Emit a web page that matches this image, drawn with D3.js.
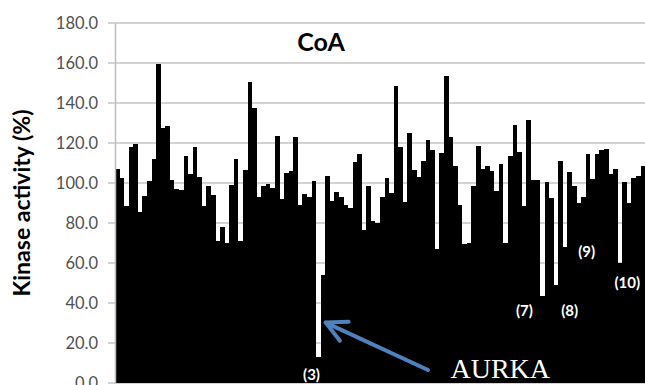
<!DOCTYPE html>
<html>
<head>
<meta charset="utf-8">
<script src="https://cdn.jsdelivr.net/npm/d3@7"></script>
<style>
  html, body { margin: 0; padding: 0; background: #fff; overflow: hidden; }
  svg { display: block; }
</style>
</head>
<body>
<div id="chart"></div>
<script>
// kinase activity values left to right
const values = [
  107, 102.7, 88.7, 118, 119.7, 85.7, 93.7, 101, 112, 159.7,
  127.7, 128.3, 101.7, 97, 96.3, 113.3, 104.3, 118, 103, 88.7,
  98.7, 94, 71, 78, 70, 99, 112, 71, 106.7, 150.3,
  137.7, 93, 98.3, 99.7, 97.3, 123.7, 92, 105, 106, 123,
  89, 94.7, 93, 101, 13, 54, 103.3, 91, 95.3, 93,
  89, 87.7, 110.3, 114.7, 76.5, 98.3, 81, 80, 93, 102.7,
  95, 148.3, 118, 90.3, 125, 106.3, 103, 111, 121.7, 116.3,
  67, 115, 153.3, 123, 108.7, 89, 69.5, 70, 98.3, 118.7,
  107, 108.7, 106, 96, 109.7, 70, 113.3, 129, 115.7, 88.7,
  131.3, 101.3, 101.7, 43.5, 100.3, 92.3, 48.8, 111, 68.2, 105.7,
  98.3, 90, 93, 114.3, 102, 114.7, 116.7, 117, 104.7, 107,
  60, 100.3, 90, 102.7, 103.7, 108.7, 74
];
const categories = values.map((v, i) => i);
const yTicks = [0, 20, 40, 60, 80, 100, 120, 140, 160, 180];

// annotations: label, position in bar units and in value units
const notes = [
  { text: '(3)', at: 43.0, v: 1.5 },
  { text: '(7)', at: 89.6, v: 33.5 },
  { text: '(8)', at: 99.5, v: 33.5 },
  { text: '(9)', at: 103.2, v: 63 },
  { text: '(10)', at: 112.1, v: 47.7 }
];
const arrowFrom = { at: 68.5, v: 6.5 };
const arrowTo = { at: 46.1, v: 30.2 };
const aurka = { text: 'AURKA', at: 84.3, v: 2.5 };

const width = 645, height = 385;
const mLeft = 115, mTop = 23, mBottom = 383;
const step = 4.57;

const svg = d3.select('#chart').append('svg')
  .attr('width', width)
  .attr('height', height);

const x = d3.scaleBand()
  .domain(categories)
  .range([mLeft, mLeft + categories.length * step])
  .padding(0);

const y = d3.scaleLinear()
  .domain([0, 180])
  .range([mBottom, mTop]);

// bar-unit position -> pixel
const xPos = d => mLeft + d * x.step();

// grid
svg.append('g')
  .selectAll('line')
  .data(yTicks)
  .enter().append('line')
  .attr('x1', mLeft - 7)
  .attr('x2', width)
  .attr('y1', d => y(d))
  .attr('y2', d => y(d))
  .attr('stroke', '#c4c4c4')
  .attr('stroke-width', 1.5);

// bars (edges snapped so neighbours meet without seams)
svg.append('g')
  .attr('shape-rendering', 'crispEdges')
  .selectAll('rect')
  .data(values)
  .enter().append('rect')
  .attr('x', (d, i) => Math.round(x(i)))
  .attr('width', (d, i) => Math.round(x(i) + x.bandwidth()) - Math.round(x(i)))
  .attr('y', d => y(d))
  .attr('height', d => y(0) - y(d))
  .attr('fill', '#000');

// y axis
const yAxis = d3.axisLeft(y)
  .tickValues(yTicks)
  .tickFormat(d3.format('.1f'))
  .tickSize(0)
  .tickPadding(17);

const ax = svg.append('g')
  .attr('transform', 'translate(' + mLeft + ',0)')
  .call(yAxis);
ax.select('.domain')
  .attr('stroke', '#bdbdbd')
  .attr('stroke-width', 1.5);
ax.selectAll('text')
  .attr('fill', '#505050')
  .attr('font-family', 'Lato, sans-serif')
  .attr('font-size', '16.5px');

svg.append('text')
  .attr('transform', 'translate(30,' + (mTop + mBottom) / 2 + ') rotate(-90)')
  .attr('text-anchor', 'middle')
  .attr('font-family', 'Lato, sans-serif')
  .attr('font-weight', 'bold')
  .attr('font-size', '23px')
  .attr('fill', '#000')
  .text('Kinase activity (%)');

svg.append('text')
  .attr('x', 321)
  .attr('y', 51)
  .attr('text-anchor', 'middle')
  .attr('font-family', 'Lato, sans-serif')
  .attr('font-weight', 'bold')
  .attr('font-size', '25px')
  .attr('fill', '#000')
  .text('CoA');

// numbered notes
svg.append('g')
  .selectAll('text')
  .data(notes)
  .enter().append('text')
  .attr('x', d => xPos(d.at))
  .attr('y', d => y(d.v))
  .attr('text-anchor', 'middle')
  .attr('font-family', 'Lato, sans-serif')
  .attr('font-weight', 'bold')
  .attr('font-size', '15px')
  .attr('fill', '#fff')
  .text(d => d.text);

// arrow to AURKA
const defs = svg.append('defs');
defs.append('marker')
  .attr('id', 'head')
  .attr('viewBox', '-26 -16 30 32')
  .attr('refX', 0)
  .attr('refY', 0)
  .attr('markerWidth', 30)
  .attr('markerHeight', 32)
  .attr('markerUnits', 'userSpaceOnUse')
  .attr('orient', 'auto')
  .append('path')
  .attr('d', 'M-20.5,-10.4 L0,0 L-20.5,10.4')
  .attr('fill', 'none')
  .attr('stroke', '#4f81bd')
  .attr('stroke-width', 4)
  .attr('stroke-linecap', 'round')
  .attr('stroke-linejoin', 'round');

svg.append('line')
  .attr('x1', xPos(arrowFrom.at))
  .attr('y1', y(arrowFrom.v))
  .attr('x2', xPos(arrowTo.at))
  .attr('y2', y(arrowTo.v))
  .attr('stroke', '#4f81bd')
  .attr('stroke-width', 4)
  .attr('stroke-linecap', 'round')
  .attr('marker-end', 'url(#head)');

svg.append('text')
  .attr('x', xPos(aurka.at))
  .attr('y', y(aurka.v))
  .attr('text-anchor', 'middle')
  .attr('font-family', 'Liberation Serif, serif')
  .attr('font-size', '28px')
  .attr('fill', '#fff')
  .text(aurka.text);
</script>
</body>
</html>
